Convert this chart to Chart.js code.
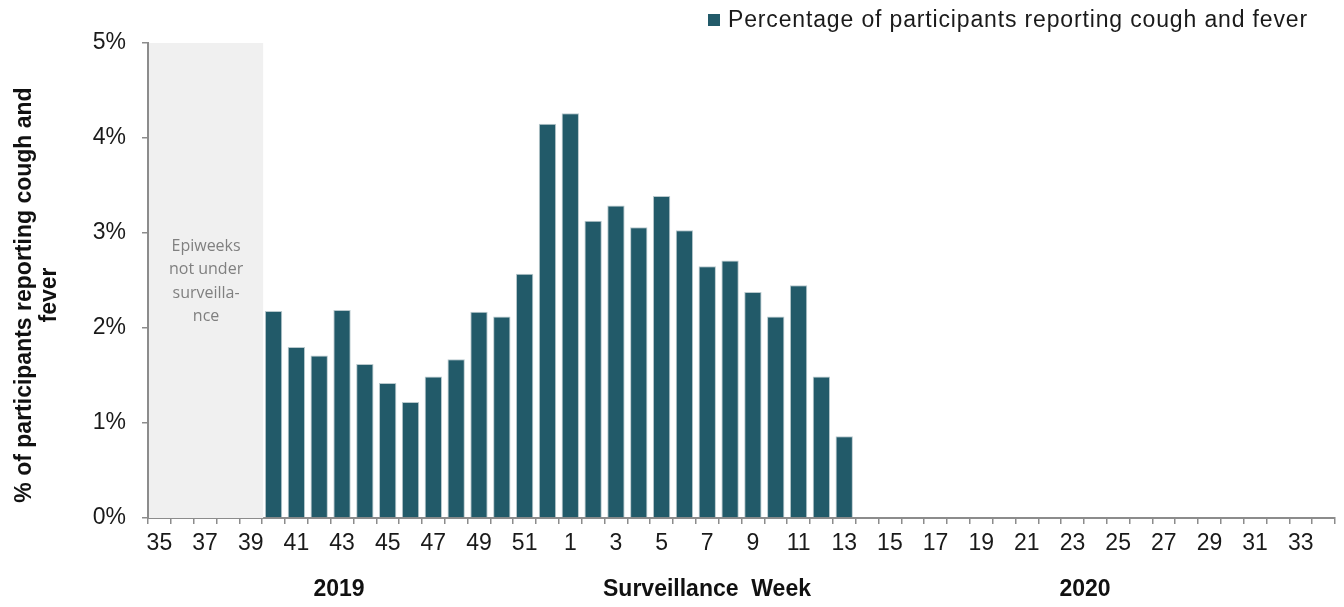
<!DOCTYPE html>
<html>
<head>
<meta charset="utf-8">
<script src="https://cdn.jsdelivr.net/npm/chart.js@4.4.1/dist/chart.umd.min.js"></script>
<style>
  html, body { margin: 0; padding: 0; background: #ffffff; }
  #wrap { width: 1344px; height: 607px; position: relative; }
</style>
</head>
<body>
<div id="wrap"><canvas id="chart"></canvas></div>
<script>
// surveillance weeks, 2019 wk 35 -> 2020 wk 34
const weeks = [
  '35', '36', '37', '38', '39', '40', '41', '42', '43', '44', '45', '46', '47', '48', '49', '50', '51', '52',
  '1', '2', '3', '4', '5', '6', '7', '8', '9', '10', '11', '12', '13', '14', '15', '16', '17',
  '18', '19', '20', '21', '22', '23', '24', '25', '26', '27', '28', '29', '30', '31', '32', '33', '34'
];

// % of participants reporting cough and fever
const coughFever = [
  null, null, null, null, null,
  2.18, 1.80, 1.71, 2.19, 1.62, 1.42, 1.22, 1.49, 1.67, 2.17, 2.12, 2.57, 4.15,
  4.26, 3.13, 3.29, 3.06, 3.39, 3.03, 2.65, 2.71, 2.38, 2.12, 2.45, 1.49, 0.86,
  null, null, null, null, null, null, null, null, null, null, null,
  null, null, null, null, null, null, null, null, null, null
];

const yTicks = [0, 1, 2, 3, 4, 5];
const seriesName = 'Percentage of participants reporting cough and fever';
const yTitle = ['% of participants reporting cough and', 'fever'];
const shadeNote = ['Epiweeks', 'not under', 'surveilla-', 'nce'];
const notUnderSurveillance = 5; // first 5 weeks shaded
const yearLabels = ['2019', 'Surveillance  Week', '2020'];

const barColor = '#225a69';
const axisColor = '#8c8c8c';
const font = '"Liberation Sans", Arial, sans-serif';

const overlay = {
  id: 'overlay',
  beforeDatasetsDraw(chart) {
    const { ctx, chartArea, scales } = chart;
    const x = scales.x;
    const step = x.getPixelForValue(1) - x.getPixelForValue(0);
    const right = x.getPixelForValue(notUnderSurveillance - 1) + step / 2;

    ctx.save();
    ctx.fillStyle = '#f0f0f0';
    ctx.fillRect(chartArea.left + 1, chartArea.top, right - chartArea.left, chartArea.bottom - chartArea.top);

    ctx.fillStyle = '#808080';
    ctx.font = '16px "Open Sans", sans-serif';
    ctx.textAlign = 'center';
    ctx.textBaseline = 'middle';
    const cx = (chartArea.left + right) / 2 + 1;
    shadeNote.forEach((line, i) => {
      ctx.fillText(line, cx, 246 + i * 23.5);
    });
    ctx.restore();
  },
  afterDraw(chart) {
    const { ctx } = chart;
    ctx.save();

    // legend
    ctx.fillStyle = barColor;
    ctx.fillRect(708, 14, 12, 12);
    ctx.fillStyle = '#1a1a1a';
    ctx.font = '23px ' + font;
    ctx.letterSpacing = '0.85px';
    ctx.textAlign = 'left';
    ctx.textBaseline = 'middle';
    ctx.fillText(seriesName, 728, 21);
    ctx.letterSpacing = '0px';

    // year / axis labels under the ticks
    ctx.font = 'bold 23px ' + font;
    ctx.textAlign = 'center';
    ctx.fillStyle = '#111111';
    ctx.fillText(yearLabels[0], 339, 590);
    ctx.fillText(yearLabels[1], 707, 590);
    ctx.fillText(yearLabels[2], 1085, 590);

    // y axis title, two lines
    ctx.translate(0, 295);
    ctx.rotate(-Math.PI / 2);
    ctx.font = 'bold 23px ' + font;
    ctx.fillText(yTitle[0], 0, 25);
    ctx.fillText(yTitle[1], 0, 50);

    ctx.restore();
  }
};

const ctx = document.getElementById('chart').getContext('2d');

new Chart(ctx, {
  type: 'bar',
  data: {
    labels: weeks,
    datasets: [{
      label: seriesName,
      data: coughFever,
      backgroundColor: barColor,
      borderColor: '#b9c9cd',
      borderWidth: 1,
      barPercentage: 0.76,
      categoryPercentage: 1.0
    }]
  },
  options: {
    responsive: true,
    maintainAspectRatio: false,
    animation: false,
    layout: { padding: { top: 43, right: 9, left: 0, bottom: 0 } },
    scales: {
      x: {
        offset: true,
        grid: {
          offset: true,
          drawOnChartArea: false,
          drawTicks: true,
          tickLength: 6,
          color: axisColor,
          lineWidth: 1.5
        },
        border: { color: axisColor, width: 2 },
        ticks: {
          autoSkip: false,
          maxRotation: 0,
          minRotation: 0,
          padding: 6,
          color: '#1a1a1a',
          font: { family: font, size: 23 },
          callback: function(value, index) {
            return index % 2 === 0 ? weeks[index] : '';
          }
        },
        afterFit: (scale) => { scale.height = 89; }
      },
      y: {
        min: 0,
        max: 5,
        afterBuildTicks: (scale) => { scale.ticks = yTicks.map(v => ({ value: v })); },
        grid: {
          drawOnChartArea: false,
          drawTicks: true,
          tickLength: 6,
          color: axisColor,
          lineWidth: 1.5
        },
        border: { color: axisColor, width: 2 },
        ticks: {
          padding: 16,
          color: '#1a1a1a',
          font: { family: font, size: 23 },
          callback: (value) => value + '%'
        },
        afterFit: (scale) => { scale.width = 148; }
      }
    },
    plugins: {
      legend: { display: false },
      tooltip: { enabled: false }
    }
  },
  plugins: [overlay]
});
</script>
</body>
</html>
